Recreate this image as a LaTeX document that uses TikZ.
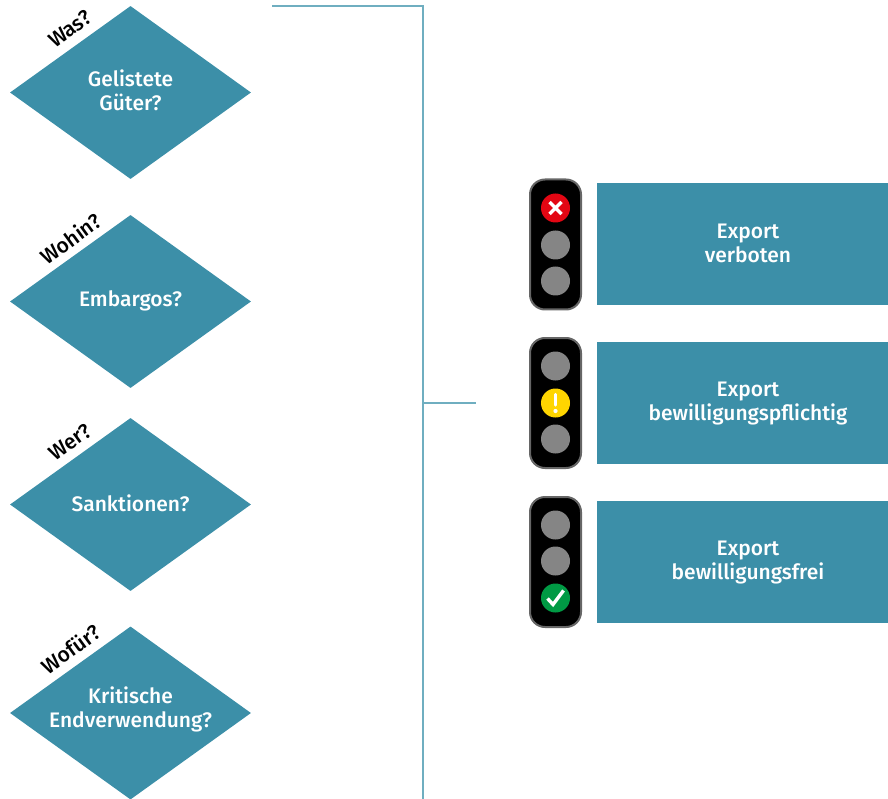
\documentclass[tikz,border=0pt]{standalone}
\usepackage{fontspec}
\setmainfont{Fira Sans Medium}
\newfontfamily\lblfont{Fira Sans Medium}
\usetikzlibrary{shapes.geometric}
\definecolor{teal1}{HTML}{3C8FA8}
\definecolor{linec}{HTML}{6FAEC0}
\definecolor{lampoff}{HTML}{858585}
\definecolor{lampred}{HTML}{E30613}
\definecolor{lampyel}{HTML}{FFD500}
\definecolor{lampgrn}{HTML}{009A44}
\tikzset{
  x=1pt,y=-1pt,
  qbox/.style={diamond,fill=teal1,inner sep=0pt,minimum width=241pt,minimum height=173pt,aspect=1.39},
  qtext/.style={text=white,align=center,inner sep=0pt,font=\fontsize{21}{24}\selectfont},
  resbox/.style={rectangle,fill=teal1,inner sep=0pt,minimum width=291pt,minimum height=122pt,anchor=west},
  tag/.style={rotate=36,text=black,inner sep=0pt,font=\lblfont\fontsize{21}{24}\selectfont},
  housing/.style={rectangle,rounded corners=15pt,fill=black,draw=black!60,line width=2pt,minimum width=51pt,minimum height=130pt,inner sep=0pt},
  lamp/.style={circle,fill=lampoff,minimum size=29pt,inner sep=0pt},
  conn/.style={draw=linec,line width=1.3pt},
  glyph/.style={draw=white,line width=3.4pt}
}
\begin{document}
\begin{tikzpicture}
\useasboundingbox (0,0) rectangle (888,799);
\node[qbox] (q1) at (130.5,92.5) {};
\node[qbox] (q2) at (130.5,301.5) {};
\node[qbox] (q3) at (130.5,504.5) {};
\node[qbox] (q4) at (130.5,713) {};
\node[qtext] (q1t) at (130.5,90) {Gelistete\\Güter?};
\node[qtext] (q2t) at (130.5,301) {Embargos?};
\node[qtext] (q3t) at (130.5,503) {Sanktionen?};
\node[qtext] (q4t) at (130.5,709) {Kritische\\Endverwendung?};
\node[tag] (t1) at (70,29) {Was?};
\node[tag] (t2) at (70.5,238.5) {Wohin?};
\node[tag] (t3) at (70,442) {Wer?};
\node[tag] (t4) at (71,649) {Wofür?};
\coordinate (top) at (272,6);
\coordinate (corner) at (423,6);
\coordinate (bottom) at (423,799);
\coordinate (branch) at (423,403);
\coordinate (stub) at (476,403);
\draw[conn] (top) -- (corner) -- (bottom);
\draw[conn] (branch) -- (stub);
\node[housing] (h1) at (555.5,244.5) {};
\node[housing] (h2) at (555.5,403) {};
\node[housing] (h3) at (555.5,562) {};
\node[lamp,fill=lampred] (l11) at (555.5,208) {};
\node[lamp] (l12) at (555.5,245) {};
\node[lamp] (l13) at (555.5,281) {};
\node[lamp] (l21) at (555.5,366) {};
\node[lamp,fill=lampyel] (l22) at (555.5,403) {};
\node[lamp] (l23) at (555.5,439) {};
\node[lamp] (l31) at (555.5,525) {};
\node[lamp] (l32) at (555.5,561) {};
\node[lamp,fill=lampgrn] (l33) at (555.5,598) {};
\draw[glyph] (549.5,202) -- (561.5,214) (561.5,202) -- (549.5,214);
\draw[glyph,line cap=round,line width=3.2pt] (555.5,394.5) -- (555.5,405);
\fill[white] (555.5,411) circle (2.1pt);
\draw[glyph] (547.5,598.5) -- (553,604.5) -- (563.5,590.5);
\node[resbox] (r1) at (597,244) {};
\node[resbox] (r2) at (597,403) {};
\node[resbox] (r3) at (597,562) {};
\node[qtext] (r1t) at (748,243) {Export\\verboten};
\node[qtext] (r2t) at (748,404) {Export\\bewilligungspflichtig};
\node[qtext] (r3t) at (748,563) {Export\\bewilligungsfrei};
\end{tikzpicture}
\end{document}
